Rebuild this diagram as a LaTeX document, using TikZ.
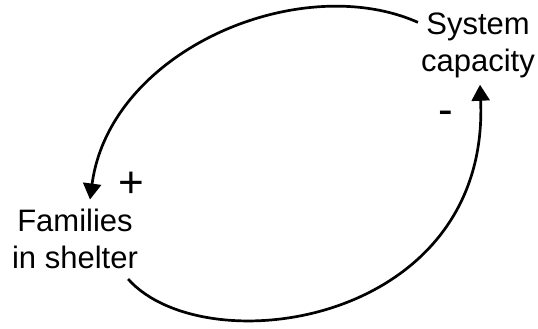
\documentclass[tikz,border=0pt]{standalone}
\usepackage{fontspec}
\setmainfont{Liberation Sans}
\usetikzlibrary{arrows.meta,calc}
\begin{document}
\begin{tikzpicture}[x=1pt,y=-1pt,
  var/.style={inner sep=0pt,align=center,font=\fontsize{31pt}{37pt}\selectfont},
  sign/.style={inner sep=0pt,font=\fontsize{44pt}{44pt}\selectfont},
  link/.style={line width=2.7pt,-{Triangle[length=16pt,width=18pt]}}]
\useasboundingbox (0,0) rectangle (538,329);
\node[var] (sys) at (478,45.5) {System\\capacity};
\node[var] (fam) at (75,239) {Families\\in shelter};
\node[sign] (plus) at (131,185) {+};
\node[sign] (minus) at (446,118) {-};
\draw[link] ([shift={(-3,9.6)}]sys.north west) .. controls (300,-30) and (110,50) .. ([shift={(15,-9.4)}]fam.north);
\draw[link] ([shift={(-10,10)}]fam.south east) .. controls (205,365) and (490,325) .. ([shift={(2,6.5)}]sys.south);
\end{tikzpicture}
\end{document}
